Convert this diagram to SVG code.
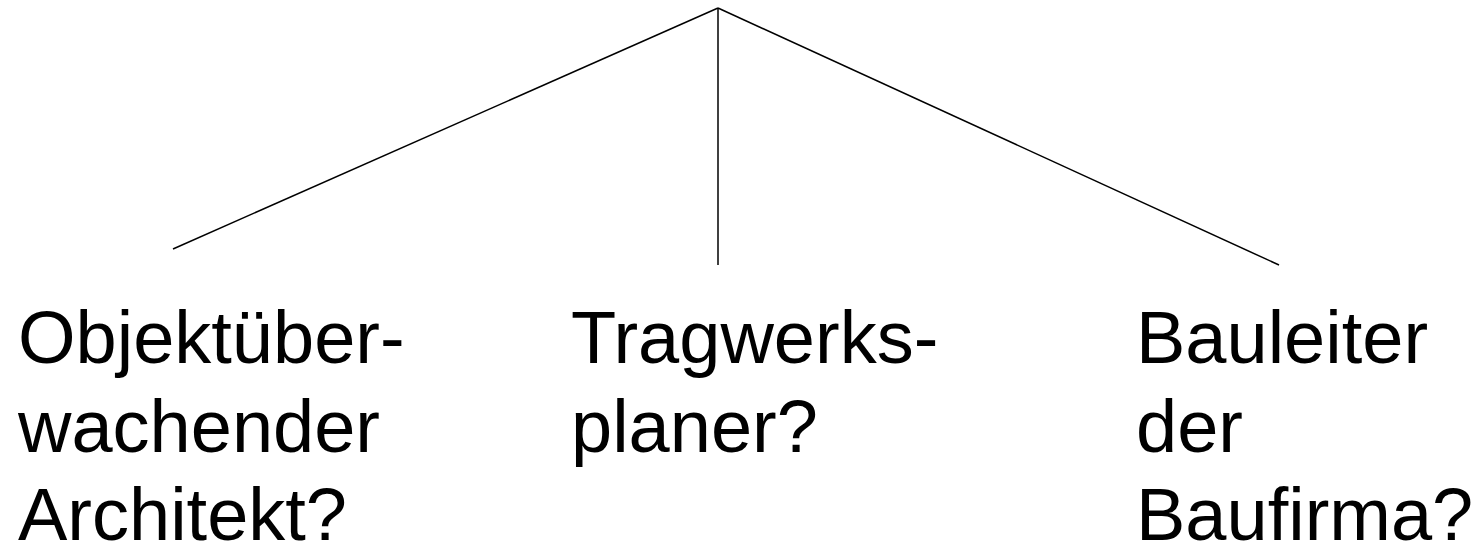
<svg xmlns="http://www.w3.org/2000/svg" width="1480" height="544" viewBox="0 0 1480 544">
<style>
.t{font-family:"Liberation Sans",Arial,sans-serif;font-size:74px;fill:#000}
.c{stroke:#000;stroke-width:1.5;fill:none}
</style>
<rect width="1480" height="544" fill="#fff"/>
<g id="connectors">
<line class="c" x1="718" y1="8" x2="173" y2="249"/>
<line class="c" x1="718" y1="8" x2="718" y2="265"/>
<line class="c" x1="718" y1="8" x2="1279" y2="265"/>
</g>
<g id="node-architekt">
<text class="t" x="18" y="363">Objektüber-</text>
<text class="t" x="18" y="452">wachender</text>
<text class="t" x="18" y="540">Architekt?</text>
</g>
<g id="node-tragwerksplaner">
<text class="t" x="571" y="363">Tragwerks-</text>
<text class="t" x="571" y="452">planer?</text>
</g>
<g id="node-bauleiter">
<text class="t" x="1136" y="363">Bauleiter</text>
<text class="t" x="1136" y="452">der</text>
<text class="t" x="1136" y="540">Baufirma?</text>
</g>
</svg>
